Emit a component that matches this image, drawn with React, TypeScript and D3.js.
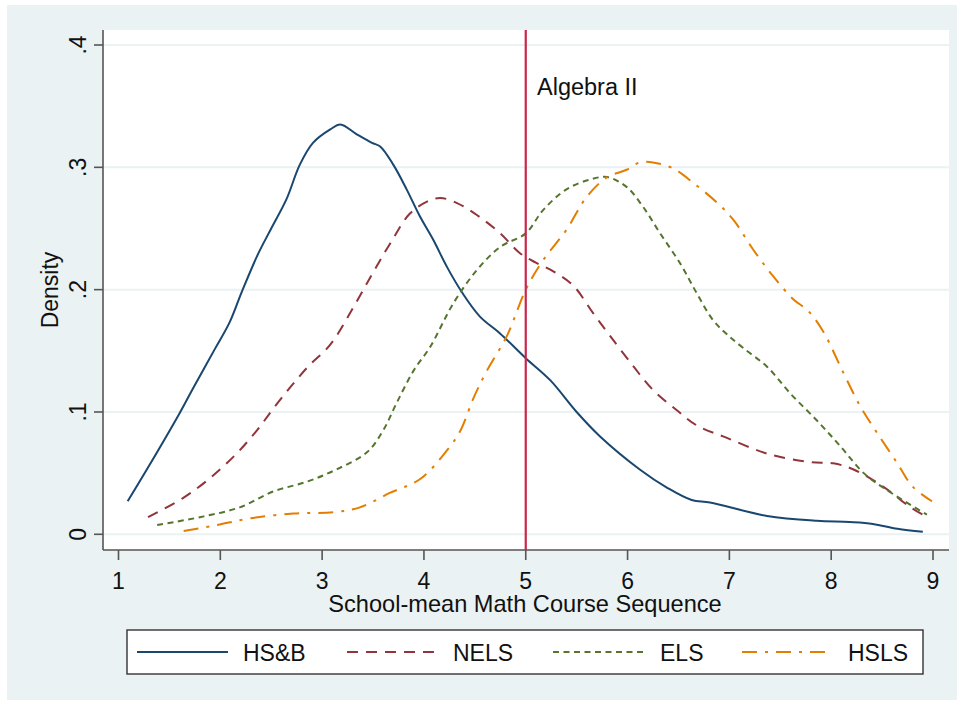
import React from "react";
import * as d3 from "d3";

const xTicks = [1, 2, 3, 4, 5, 6, 7, 8, 9];
const yTicks = [0, 0.1, 0.2, 0.3, 0.4];
const yTickLabels = ["0", ".1", ".2", ".3", ".4"];

const hsb: [number, number][] = [
  [1.09, 0.027], [1.3, 0.056], [1.6, 0.099], [1.73, 0.119], [1.95, 0.152], [2.09, 0.173],
  [2.21, 0.198], [2.37, 0.229], [2.5, 0.25], [2.65, 0.274], [2.78, 0.302], [2.91, 0.32],
  [3.08, 0.331], [3.18, 0.335], [3.34, 0.327], [3.49, 0.32], [3.57, 0.317], [3.7, 0.302],
  [3.83, 0.282], [3.96, 0.26], [4.09, 0.241], [4.23, 0.218], [4.38, 0.197], [4.55, 0.178],
  [4.75, 0.164], [5.0, 0.144], [5.24, 0.126], [5.5, 0.1], [5.73, 0.08], [6.12, 0.053],
  [6.39, 0.038], [6.63, 0.028], [6.81, 0.026], [7.37, 0.015], [7.86, 0.011], [8.18, 0.01],
  [8.41, 0.0085], [8.65, 0.0045], [8.9, 0.002],
];

const nels: [number, number][] = [
  [1.29, 0.014], [1.64, 0.03], [1.9, 0.046], [2.16, 0.066], [2.36, 0.085], [2.55, 0.106],
  [2.85, 0.136], [3.08, 0.155], [3.31, 0.186], [3.5, 0.214], [3.67, 0.238], [3.86, 0.262],
  [4.03, 0.272], [4.16, 0.275], [4.32, 0.271], [4.52, 0.261], [4.75, 0.246], [4.94, 0.23],
  [5.1, 0.222], [5.27, 0.215], [5.47, 0.203], [5.66, 0.181], [5.83, 0.162], [6.06, 0.137],
  [6.25, 0.118], [6.49, 0.101], [6.68, 0.089], [6.97, 0.079], [7.37, 0.066], [7.79, 0.059],
  [8.02, 0.058], [8.22, 0.053], [8.51, 0.039], [8.78, 0.022], [8.9, 0.016],
];

const els: [number, number][] = [
  [1.38, 0.0076], [1.8, 0.014], [2.19, 0.022], [2.52, 0.035], [2.85, 0.043], [3.14, 0.053],
  [3.44, 0.067], [3.6, 0.085], [3.73, 0.107], [3.9, 0.134], [4.06, 0.153], [4.29, 0.189],
  [4.52, 0.216], [4.75, 0.235], [5.0, 0.246], [5.17, 0.265], [5.4, 0.282], [5.63, 0.29],
  [5.8, 0.292], [5.99, 0.284], [6.15, 0.268], [6.32, 0.246], [6.52, 0.221], [6.68, 0.197],
  [6.84, 0.175], [6.97, 0.164], [7.14, 0.152], [7.37, 0.137], [7.6, 0.115], [7.86, 0.093],
  [8.09, 0.072], [8.32, 0.05], [8.55, 0.036], [8.94, 0.016],
];

const hsls: [number, number][] = [
  [1.64, 0.0027], [1.97, 0.0076], [2.29, 0.013], [2.72, 0.017], [3.11, 0.018], [3.37, 0.022],
  [3.67, 0.034], [3.96, 0.045], [4.23, 0.069], [4.36, 0.085], [4.49, 0.112], [4.62, 0.134],
  [4.82, 0.163], [5.0, 0.2], [5.17, 0.224], [5.4, 0.249], [5.6, 0.276], [5.8, 0.292],
  [5.99, 0.298], [6.12, 0.304], [6.25, 0.304], [6.45, 0.299], [6.65, 0.287], [6.88, 0.271],
  [7.04, 0.257], [7.24, 0.232], [7.43, 0.211], [7.63, 0.192], [7.77, 0.183], [7.92, 0.166],
  [8.12, 0.132], [8.29, 0.104], [8.45, 0.083], [8.65, 0.058], [8.8, 0.039], [8.99, 0.027],
];

const seriesNames = ["HS&B", "NELS", "ELS", "HSLS"];
const seriesData = [hsb, nels, els, hsls];
const seriesColors = ["#1A476F", "#90353B", "#55752F", "#E37E00"];
const seriesDash = ["none", "11,8", "6,4.5", "15,8,3,8"];

const refLineX = 5;
const refLabel = "Algebra II";

const FONT = "'Liberation Sans', Arial, sans-serif";

export default function App() {
  const W = 963, H = 705;
  const plotL = 103, plotR = 949, plotT = 30, plotB = 550;
  const x = d3.scaleLinear().domain([1, 9]).range([118.5, 933]);
  const y = d3.scaleLinear().domain([0, 0.4]).range([534.3, 45]);
  const line = d3
    .line<[number, number]>()
    .x((d) => x(d[0]))
    .y((d) => y(d[1]))
    .curve(d3.curveCatmullRom.alpha(0.5));

  const legendX = [137, 347, 553, 742];
  const legendLabelX = [243, 453, 660, 848];
  const legendLen = 91;

  return (
    <svg
      width={W}
      height={H}
      style={{ position: "absolute", left: 0, top: 0, background: "#fff" }}
      fontFamily={FONT}
    >
      <rect x={7} y={5} width={950} height={695} fill="#EAF2F3" />
      <rect x={plotL} y={plotT} width={plotR - plotL} height={plotB - plotT} fill="#fff" />
      {yTicks.map((t) => (
        <line key={"g" + t} x1={plotL} x2={plotR} y1={y(t)} y2={y(t)} stroke="#EAF2F3" strokeWidth={2} />
      ))}
      <line x1={plotL} x2={plotL} y1={plotT} y2={plotB} stroke="#555" strokeWidth={1.6} />
      <line x1={plotL} x2={plotR} y1={plotB} y2={plotB} stroke="#555" strokeWidth={1.6} />
      {yTicks.map((t, i) => (
        <g key={"yt" + t}>
          <line x1={plotL - 9} x2={plotL} y1={y(t)} y2={y(t)} stroke="#555" strokeWidth={1.6} />
          <text
            transform={`translate(${86},${y(t)}) rotate(-90)`}
            textAnchor="middle"
            fontSize={23}
            fill="#111"
          >
            {yTickLabels[i]}
          </text>
        </g>
      ))}
      {xTicks.map((t) => (
        <g key={"xt" + t}>
          <line x1={x(t)} x2={x(t)} y1={plotB} y2={plotB + 10} stroke="#555" strokeWidth={1.6} />
          <text x={x(t)} y={589} textAnchor="middle" fontSize={23} fill="#111">
            {t}
          </text>
        </g>
      ))}
      <text x={525} y={612} textAnchor="middle" fontSize={23.6} fill="#111">
        School-mean Math Course Sequence
      </text>
      <text transform={`translate(58,290) rotate(-90)`} textAnchor="middle" fontSize={23} fill="#111">
        Density
      </text>
      {seriesData.map((d, i) => (
        <path
          key={seriesNames[i]}
          d={line(d) || ""}
          fill="none"
          stroke={seriesColors[i]}
          strokeWidth={2}
          strokeDasharray={seriesDash[i] === "none" ? undefined : seriesDash[i]}
        />
      ))}
      <line x1={x(refLineX)} x2={x(refLineX)} y1={plotT} y2={plotB} stroke="#C8264B" strokeWidth={2.2} />
      <text x={537} y={95} fontSize={23.5} fill="#111">
        {refLabel}
      </text>
      <rect x={127} y={630} width={796} height={44} fill="#fff" stroke="#333" strokeWidth={1.4} />
      {seriesNames.map((n, i) => (
        <g key={"lg" + n}>
          <line
            x1={legendX[i]}
            x2={legendX[i] + legendLen}
            y1={652}
            y2={652}
            stroke={seriesColors[i]}
            strokeWidth={2}
            strokeDasharray={seriesDash[i] === "none" ? undefined : seriesDash[i]}
          />
          <text x={legendLabelX[i]} y={661} fontSize={23} fill="#111">
            {n}
          </text>
        </g>
      ))}
    </svg>
  );
}
